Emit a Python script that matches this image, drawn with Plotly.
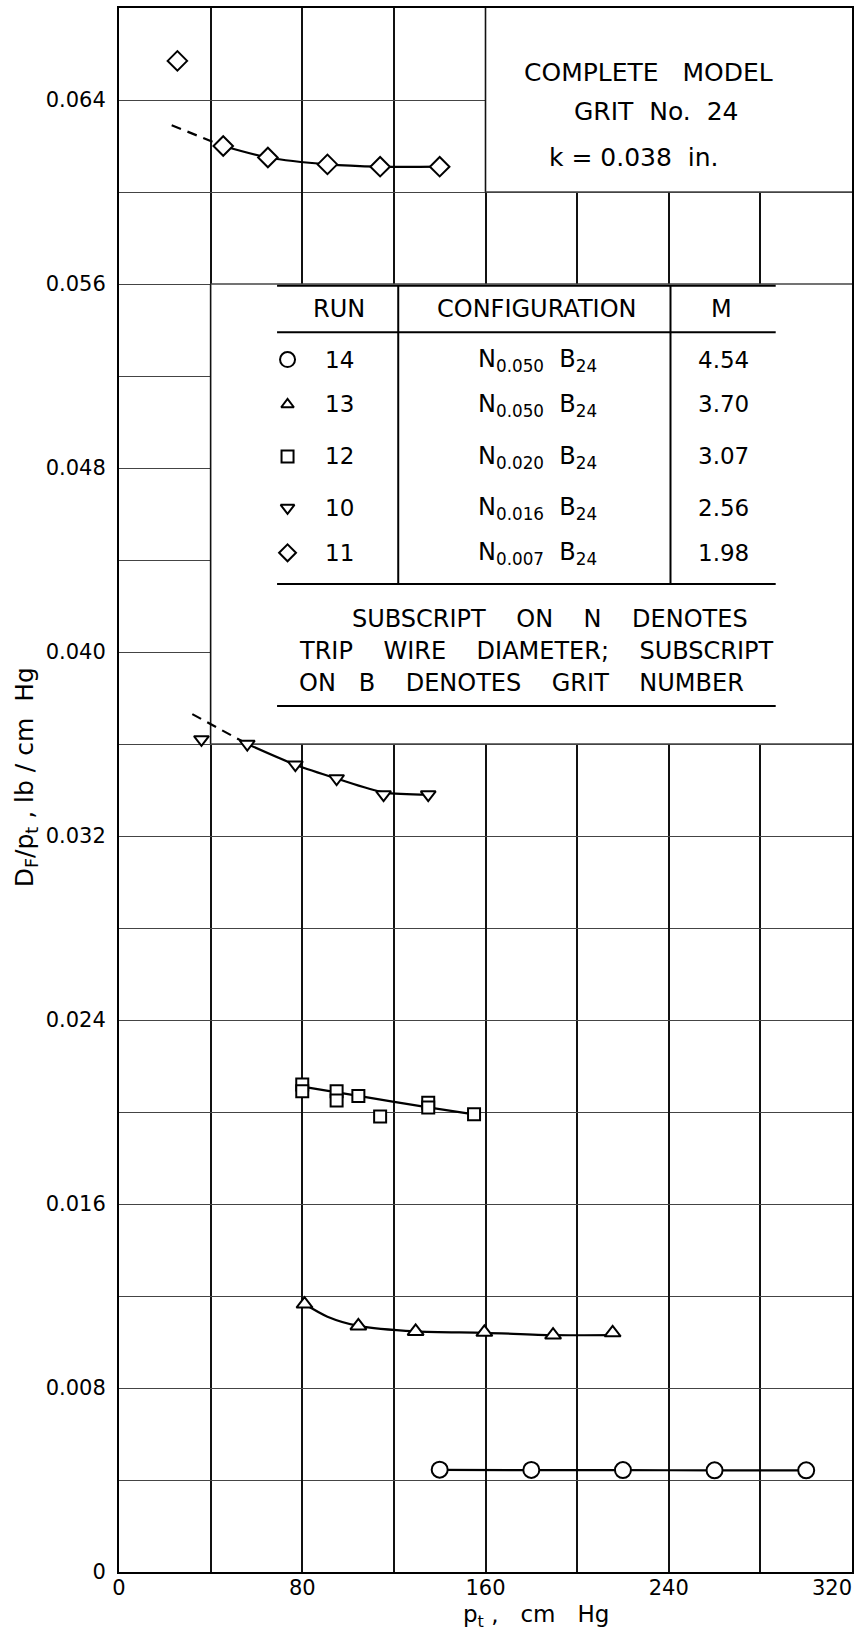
import plotly.graph_objects as go

# ---------------- data ----------------
# Run 14, circles
run14_p = [140, 180, 220, 260, 300]
run14_d = [0.00445, 0.00444, 0.00443, 0.00442, 0.00442]
run14_fair_p = [140, 180, 220, 260, 300]
run14_fair_d = [0.00444, 0.00443, 0.00443, 0.00442, 0.00442]

# Run 13, triangles up
run13_p = [81, 104.5, 129.5, 159.5, 189.5, 215.5]
run13_d = [0.01165, 0.0107, 0.01046, 0.01042, 0.0103, 0.0104]
run13_fair_p = [81, 91, 104.5, 129.5, 159.5, 189.5, 215.5]
run13_fair_d = [0.01165, 0.0111, 0.0107, 0.01046, 0.0104, 0.0103, 0.0103]

# Run 12, squares
run12_p = [80, 80, 95, 95, 104.5, 114, 135, 135, 155]
run12_d = [0.0212, 0.0209, 0.0209, 0.0205, 0.0207, 0.0198, 0.0204, 0.0202, 0.0199]
run12_fair_p = [80, 104.5, 135, 155]
run12_fair_d = [0.0211, 0.0207, 0.0202, 0.0199]

# Run 10, triangles down
run10_p = [36, 56, 77, 95, 115.5, 135]
run10_d = [0.0362, 0.0360, 0.0351, 0.0345, 0.0338, 0.0338]
run10_fair_p = [56, 77, 95, 115.5, 135]
run10_fair_d = [0.0360, 0.0351, 0.0345, 0.0339, 0.0338]
run10_dash_p = [32, 56]
run10_dash_d = [0.0373, 0.0360]

# Run 11, diamonds
run11_p = [25.5, 45.5, 65, 91, 114, 140]
run11_d = [0.0657, 0.0620, 0.0615, 0.0612, 0.0611, 0.0611]
run11_fair_p = [45.5, 65, 91, 114, 140]
run11_fair_d = [0.0620, 0.0615, 0.0612, 0.0611, 0.0611]
run11_dash_p = [23, 45.5]
run11_dash_d = [0.0629, 0.0620]

# legend table
table_runs = ["14", "13", "12", "10", "11"]
table_symbols = ["circle", "triangle-up", "square", "triangle-down", "diamond"]
table_nsub = ["0.050", "0.050", "0.020", "0.016", "0.007"]
table_mach = ["4.54", "3.70", "3.07", "2.56", "1.98"]

# axis ticks (labelled) ; grid every half step via minor ticks
x_tickvals = [0, 80, 160, 240]
x_ticktext = ["0", "80", "160", "240"]
x_last_label = "320"
y_tickvals = [0, 0.008, 0.016, 0.024, 0.032, 0.040, 0.048, 0.056, 0.064]
y_ticktext = ["0", "0.008", "0.016", "0.024", "0.032", "0.040", "0.048", "0.056", "0.064"]

# ---------------- geometry helpers (pixel -> paper / data) ----------------
PX_L, PX_R, PX_T, PX_B = 119, 854, 6, 1572
X_MAX, Y_MAX = 320, 0.068


def xd(px):
    return (px - PX_L) / (PX_R - PX_L) * X_MAX


def yd(py):
    return (PX_B - py) / (PX_B - PX_T) * Y_MAX


def xp(px):
    return (px - PX_L) / (PX_R - PX_L)


def yp(py):
    return (PX_B - py) / (PX_B - PX_T)


FONT = "DejaVu Sans"
NB = "\u00a0"

fig = go.Figure()


def fair(px, py, dash="solid"):
    fig.add_trace(go.Scatter(x=px, y=py, mode="lines",
                             line=dict(color="black", width=2.2, dash=dash, shape="spline", smoothing=0.8),
                             hoverinfo="skip", showlegend=False))


def marks(px, py, sym, size):
    fig.add_trace(go.Scatter(x=px, y=py, mode="markers",
                             marker=dict(symbol=sym, size=size, color="white",
                                         line=dict(color="black", width=2)),
                             showlegend=False))


fair(run14_fair_p, run14_fair_d)
fair(run13_fair_p, run13_fair_d)
fair(run12_fair_p, run12_fair_d)
fair(run10_fair_p, run10_fair_d)
fair(run10_dash_p, run10_dash_d, dash="10px,7px")
fair(run11_fair_p, run11_fair_d)
fair(run11_dash_p, run11_dash_d, dash="10px,7px")

marks(run14_p, run14_d, "circle", 16)
marks(run13_p, run13_d, "triangle-up", 14)
marks(run12_p, run12_d, "square", 12)
marks(run10_p, run10_d, "triangle-down", 13)
marks(run11_p, run11_d, "diamond", 15)

# legend-table symbols
row_py = [358, 403, 455, 506.5, 551.5]
sym_sizes = [15, 11, 12, 12, 13]
for sym, py, sz in zip(table_symbols, row_py, sym_sizes):
    fig.add_trace(go.Scatter(x=[xd(288)], y=[yd(py)], mode="markers",
                             marker=dict(symbol=sym, size=sz, color="white",
                                         line=dict(color="black", width=2)),
                             showlegend=False, hoverinfo="skip"))

shapes = []
XGRID = dict(color="#111", width=1.6)
YGRID = dict(color="#444", width=1.3)
# white boxes hiding the grid
shapes.append(dict(type="rect", xref="x", yref="y", x0=160, x1=320, y0=0.060, y1=0.068,
                   fillcolor="white", line=dict(width=0), layer="between"))
shapes.append(dict(type="rect", xref="x", yref="y", x0=40, x1=320, y0=0.036, y1=0.056,
                   fillcolor="white", line=dict(width=0), layer="between"))
# box edges that coincide with grid lines
shapes.append(dict(type="line", xref="x", yref="y", x0=160, x1=160, y0=0.060, y1=0.068, line=XGRID, layer="between"))
shapes.append(dict(type="line", xref="x", yref="y", x0=160, x1=320, y0=0.060, y1=0.060, line=YGRID, layer="between"))
shapes.append(dict(type="line", xref="x", yref="y", x0=40, x1=40, y0=0.036, y1=0.056, line=XGRID, layer="between"))
shapes.append(dict(type="line", xref="x", yref="y", x0=40, x1=320, y0=0.056, y1=0.056, line=YGRID, layer="between"))
shapes.append(dict(type="line", xref="x", yref="y", x0=40, x1=320, y0=0.036, y1=0.036, line=YGRID, layer="between"))

# table rules
TL, TR = 277.5, 777.5
RULE = dict(color="black", width=2)
for py in [284, 330.7, 582.7, 705]:
    shapes.append(dict(type="line", xref="paper", yref="paper", x0=xp(TL), x1=xp(TR), y0=yp(py), y1=yp(py), line=RULE))
for px in [399, 672]:
    shapes.append(dict(type="line", xref="paper", yref="paper", x0=xp(px), x1=xp(px), y0=yp(284), y1=yp(582.7), line=RULE))

ann = []


def text(px, py, s, size=23, xanchor="center", angle=0):
    ann.append(dict(x=xp(px), y=yp(py), xref="paper", yref="paper", text=s, showarrow=False,
                    xanchor=xanchor, yanchor="middle", textangle=angle,
                    font=dict(family=FONT, size=size, color="black")))


# title box
text(650, 71, "COMPLETE" + NB * 3 + "MODEL", size=25)
text(658, 110, "GRIT" + NB * 2 + "No." + NB * 2 + "24", size=25)
text(635, 156, "k" + NB + "=" + NB + "0.038" + NB * 2 + "in.", size=25)

# table header
text(340, 307, "RUN", size=24)
text(538, 307, "CONFIGURATION", size=24)
text(723, 307, "M", size=24)
for r, ns, m, py in zip(table_runs, table_nsub, table_mach, row_py):
    text(340, py, r)
    text(539, py + 1, "N<sub>" + ns + "</sub>" + NB * 2 + "B<sub>24</sub>", size=24)
    text(725, py, m)

# note
text(351, 618, "SUBSCRIPT" + NB * 4 + "ON" + NB * 4 + "N" + NB * 4 + "DENOTES", size=24, xanchor="left")
text(297, 650, "TRIP" + NB * 4 + "WIRE" + NB * 4 + "DIAMETER;" + NB * 4 + "SUBSCRIPT", size=24, xanchor="left")
text(297, 682, "ON" + NB * 3 + "B" + NB * 4 + "DENOTES" + NB * 4 + "GRIT" + NB * 4 + "NUMBER", size=24, xanchor="left")

# last x tick label (kept inside the page)
ann.append(dict(x=1.0, y=yp(1588), xref="paper", yref="paper", text=x_last_label, showarrow=False,
                xanchor="right", yanchor="middle", xshift=2,
                font=dict(family=FONT, size=21, color="black")))

# axis titles
text(537, 1616, "p<sub>t</sub>" + NB + "," + NB * 3 + "cm" + NB * 3 + "Hg", size=23)
text(26, 776, "D<sub>F</sub>/p<sub>t</sub>" + NB + "," + NB + "lb" + NB + "/" + NB + "cm" + NB * 2 + "Hg",
     size=25, angle=-90)

fig.update_layout(
    width=860, height=1635,
    margin=dict(l=PX_L, r=860 - PX_R, t=PX_T, b=1635 - PX_B, pad=0),
    paper_bgcolor="white", plot_bgcolor="white",
    showlegend=False,
    shapes=shapes, annotations=ann,
    font=dict(family=FONT, color="black"),
)
fig.update_xaxes(range=[0, X_MAX], tickvals=x_tickvals, ticktext=x_ticktext,
                 showgrid=True, gridcolor=XGRID["color"], gridwidth=XGRID["width"],
                 minor=dict(tick0=0, dtick=40, showgrid=True, gridcolor=XGRID["color"],
                            gridwidth=XGRID["width"], ticks=""),
                 zeroline=False, showline=True, mirror=True, linecolor="black", linewidth=2,
                 ticks="", tickfont=dict(family=FONT, size=21, color="black"),
                 ticklabelstandoff=-4)
fig.update_yaxes(range=[0, Y_MAX], tickvals=y_tickvals, ticktext=y_ticktext,
                 showgrid=True, gridcolor=YGRID["color"], gridwidth=YGRID["width"],
                 minor=dict(tick0=0, dtick=0.004, showgrid=True, gridcolor=YGRID["color"],
                            gridwidth=YGRID["width"], ticks=""),
                 zeroline=False, showline=True, mirror=True, linecolor="black", linewidth=2,
                 ticks="", tickfont=dict(family=FONT, size=21, color="black"),
                 ticklabelstandoff=7)

fig.write_html("out.html")
